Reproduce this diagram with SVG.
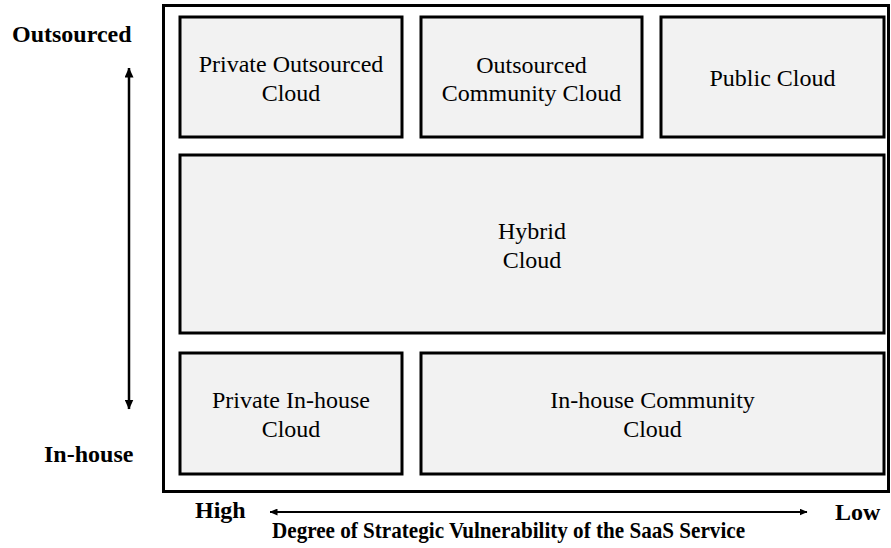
<svg xmlns="http://www.w3.org/2000/svg" width="891" height="548" viewBox="0 0 891 548">
<style>
.box{fill:#f2f2f2;stroke:#000;stroke-width:3}
.t{font-family:"Liberation Serif","Times New Roman",serif;font-size:24px;fill:#000;text-anchor:middle}
.b{font-family:"Liberation Serif","Times New Roman",serif;font-size:24px;font-weight:bold;fill:#000}
.ax{stroke:#000;fill:none}
</style>
<defs>
<marker id="ahv" viewBox="0 0 10 9" refX="9.5" refY="4.5" markerWidth="10" markerHeight="9" markerUnits="userSpaceOnUse" orient="auto-start-reverse">
<path d="M0,0 L10,4.5 L0,9 Z" fill="#000"/>
</marker>
<marker id="ahh" viewBox="0 0 8 7" refX="7.5" refY="3.5" markerWidth="8" markerHeight="7" markerUnits="userSpaceOnUse" orient="auto-start-reverse">
<path d="M0,0 L8,3.5 L0,7 Z" fill="#000"/>
</marker>
</defs>
<rect id="frame" x="163.5" y="5.5" width="725" height="486" fill="#fff" stroke="#000" stroke-width="3"/>
<g id="private-outsourced">
<rect class="box" x="180" y="17" width="222" height="120"/>
<text class="t" x="291" y="72">Private Outsourced</text>
<text class="t" x="291" y="101">Cloud</text>
</g>
<g id="outsourced-community">
<rect class="box" x="421" y="17" width="221" height="120"/>
<text class="t" x="531.5" y="73">Outsourced</text>
<text class="t" x="531.5" y="101">Community Cloud</text>
</g>
<g id="public">
<rect class="box" x="661" y="17" width="223" height="120"/>
<text class="t" x="772.5" y="86">Public Cloud</text>
</g>
<g id="hybrid">
<rect class="box" x="180" y="155" width="704" height="178"/>
<text class="t" x="532" y="239">Hybrid</text>
<text class="t" x="532" y="268">Cloud</text>
</g>
<g id="private-inhouse">
<rect class="box" x="180" y="353" width="222" height="121"/>
<text class="t" x="291" y="408">Private In-house</text>
<text class="t" x="291" y="437">Cloud</text>
</g>
<g id="inhouse-community">
<rect class="box" x="421" y="353" width="463" height="121"/>
<text class="t" x="652.5" y="408">In-house Community</text>
<text class="t" x="652.5" y="437">Cloud</text>
</g>
<g id="connectors">
<line class="ax" stroke-width="2.5" x1="129" y1="68" x2="129" y2="409" marker-start="url(#ahv)" marker-end="url(#ahv)"/>
<line class="ax" stroke-width="2" x1="270" y1="512" x2="807" y2="512" marker-start="url(#ahh)" marker-end="url(#ahh)"/>
</g>
<g id="labels">
<text class="b" x="12" y="42">Outsourced</text>
<text class="b" x="44" y="462">In-house</text>
<text class="b" x="195" y="518">High</text>
<text class="b" x="835" y="520">Low</text>
<text class="b" x="272" y="538" textLength="473" lengthAdjust="spacingAndGlyphs">Degree of Strategic Vulnerability of the SaaS Service</text>
</g>
</svg>
